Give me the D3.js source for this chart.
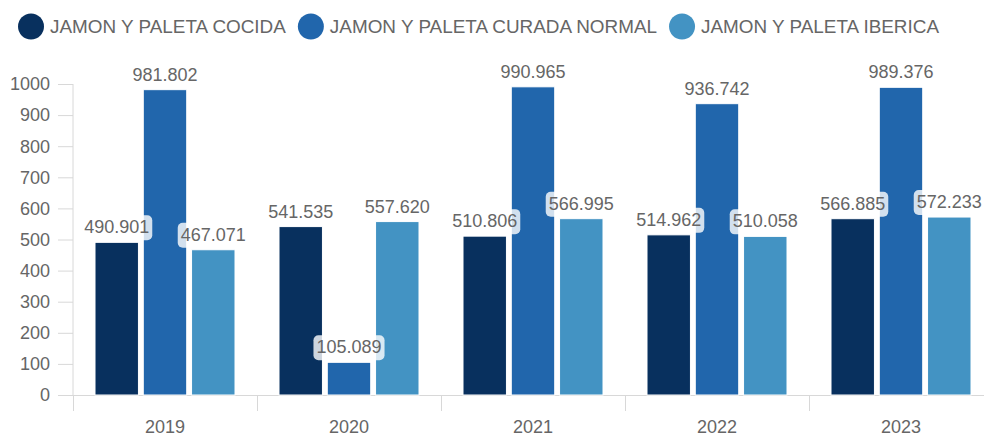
<!DOCTYPE html>
<html>
<head>
<meta charset="utf-8">
<script src="https://cdn.jsdelivr.net/npm/d3@7"></script>
<style>
  body { margin: 0; background: #fff; }
  svg { display: block; font-family: "Liberation Sans", Arial, sans-serif; }
</style>
</head>
<body>
<div id="chart"></div>
<script>
const years = ['2019', '2020', '2021', '2022', '2023'];
const seriesNames = ['JAMON Y PALETA COCIDA', 'JAMON Y PALETA CURADA NORMAL', 'JAMON Y PALETA IBERICA'];
const cocida = [490.901, 541.535, 510.806, 514.962, 566.885];
const curada = [981.802, 105.089, 990.965, 936.742, 989.376];
const iberica = [467.071, 557.620, 566.995, 510.058, 572.233];
const yTicks = [0, 100, 200, 300, 400, 500, 600, 700, 800, 900, 1000];
const colors = ['#08305e', '#2166ac', '#4393c3'];

const seriesValues = [cocida, curada, iberica];
const width = 984, height = 437;
const plot = {left: 73, right: 993, top: 84, bottom: 395};

const svg = d3.select('#chart').append('svg')
  .attr('width', width)
  .attr('height', height);

const x0 = d3.scaleBand().domain(years).range([plot.left, plot.right]);
const x1 = d3.scaleBand().domain(seriesNames).range([22, x0.bandwidth() - 22]).paddingInner(0.1);
const y = d3.scaleLinear().domain([0, 1000]).range([plot.bottom, plot.top]);

// axes
const axisColor = '#d8d8d8';
svg.append('line')
  .attr('x1', plot.left).attr('x2', plot.left)
  .attr('y1', plot.top).attr('y2', plot.bottom)
  .attr('stroke', axisColor);

svg.selectAll('.ytick').data(yTicks).enter().append('line')
  .attr('x1', plot.left - 15).attr('x2', plot.left)
  .attr('y1', d => y(d) + 0.5).attr('y2', d => y(d) + 0.5)
  .attr('stroke', axisColor);

svg.selectAll('.ylabel').data(yTicks).enter().append('text')
  .attr('x', 50)
  .attr('y', d => y(d))
  .attr('dy', '0.35em')
  .attr('text-anchor', 'end')
  .style('font-size', '18px')
  .style('fill', '#666')
  .text(d => d);

svg.append('line')
  .attr('x1', plot.left - 15).attr('x2', width)
  .attr('y1', plot.bottom + 0.5).attr('y2', plot.bottom + 0.5)
  .attr('stroke', axisColor);

svg.selectAll('.xtick').data(years).enter().append('line')
  .attr('x1', d => x0(d) + 0.5).attr('x2', d => x0(d) + 0.5)
  .attr('y1', plot.bottom).attr('y2', plot.bottom + 16)
  .attr('stroke', axisColor);

svg.selectAll('.xlabel').data(years).enter().append('text')
  .attr('x', d => x0(d) + x0.bandwidth() / 2)
  .attr('y', 433)
  .attr('text-anchor', 'middle')
  .style('font-size', '18px')
  .style('fill', '#666')
  .text(d => d);

// bars
const barData = [];
years.forEach((yr, i) => {
  seriesNames.forEach((s, j) => {
    barData.push({year: yr, series: s, value: seriesValues[j][i], color: colors[j]});
  });
});

svg.selectAll('.bar').data(barData).enter().append('rect')
  .attr('x', d => x0(d.year) + x1(d.series))
  .attr('y', d => y(d.value))
  .attr('width', x1.bandwidth())
  .attr('height', d => plot.bottom - y(d.value))
  .attr('fill', d => d.color)
  .attr('stroke', '#fff')
  .attr('stroke-width', 1);

// data labels with translucent boxes
const fmt = d3.format('.3f');
const labels = svg.selectAll('.lbl').data(barData).enter().append('g');

labels.each(function(d) {
  const g = d3.select(this);
  const cx = x0(d.year) + x1(d.series) + x1.bandwidth() / 2;
  const top = y(d.value);
  const txt = g.append('text')
    .attr('x', cx)
    .attr('y', top - 9)
    .attr('text-anchor', 'middle')
    .style('font-size', '18px')
    .style('fill', '#666')
    .text(fmt(d.value));
  const w = txt.node().getComputedTextLength();
  g.insert('rect', 'text')
    .attr('x', cx - w / 2 - 3)
    .attr('y', top - 27)
    .attr('width', w + 6)
    .attr('height', 25)
    .attr('rx', 5)
    .attr('fill', 'rgba(255,255,255,0.8)');
});

// legend
let lx = 18;
seriesNames.forEach((s, j) => {
  svg.append('circle')
    .attr('cx', lx + 13)
    .attr('cy', 26.5)
    .attr('r', 13)
    .attr('fill', colors[j]);
  const t = svg.append('text')
    .attr('x', lx + 32)
    .attr('y', 33)
    .style('font-size', '18.9px')
    .style('fill', '#666')
    .text(s);
  lx += 32 + t.node().getComputedTextLength() + 12;
});
</script>
</body>
</html>
